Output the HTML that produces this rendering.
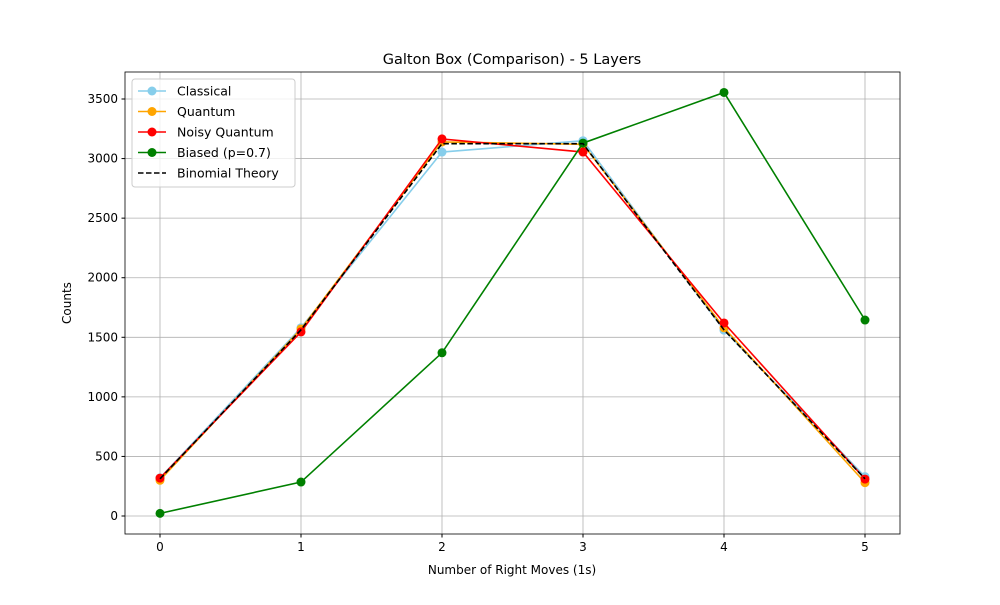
<!DOCTYPE html>
<html><head><meta charset="utf-8"><style>
body{margin:0;background:#fff;font-family:"Liberation Sans","DejaVu Sans",sans-serif;}
svg text{font-family:"DejaVu Sans","Liberation Sans",sans-serif;}
</style></head><body>
<svg id="chart" width="1000" height="600" xmlns="http://www.w3.org/2000/svg"></svg>
<script>
const categories=[0,1,2,3,4,5];
const classical=[320,1580,3055,3150,1560,330];
const quantum=[300,1570,3140,3120,1580,280];
const noisy=[318,1545,3165,3055,1620,310];
const biased=[22,285,1370,3130,3555,1645];
const binomial=[312.5,1562.5,3125,3125,1562.5,312.5];
const yTicks=[0,500,1000,1500,2000,2500,3000,3500];
const xTicks=[0,1,2,3,4,5];
const L=125,R=900,T=72,B=534;
const x=v=>160+v*141;
const y=v=>516-v*0.11914;
const svg=document.getElementById('chart');
const NS='http://www.w3.org/2000/svg';
function mk(tag,attrs,parent){const e=document.createElementNS(NS,tag);for(const k in attrs)e.setAttribute(k,attrs[k]);(parent||svg).appendChild(e);return e;}
// grid
xTicks.forEach(t=>{const g=mk('line',{x1:x(t),x2:x(t),y1:T,y2:B,stroke:'#b0b0b0','stroke-width':0.8});


const tk=mk('line',{x1:x(t),x2:x(t),y1:B,y2:B+3.5,stroke:'#000'});
const tx=mk('text',{x:x(t),y:B+17,'text-anchor':'middle','font-size':12});tx.textContent=t;

});
yTicks.forEach(t=>{const g=mk('line',{x1:L,x2:R,y1:y(t),y2:y(t),stroke:'#b0b0b0','stroke-width':0.8});


mk('line',{x1:L-3.5,x2:L,y1:y(t),y2:y(t),stroke:'#000'});
const tx=mk('text',{x:L-7,y:y(t)+4,'text-anchor':'end','font-size':12});tx.textContent=t;

});
function series(vals,color,name,dash,markers){
 const pts=vals.map((v,i)=>x(categories[i])+','+y(v)).join(' ');
 const p=mk('polyline',{points:pts,fill:'none',stroke:color,'stroke-width':1.6});
 if(dash)p.setAttribute('stroke-dasharray','5.5,2.5');
 
 
 if(markers)vals.forEach((v,i)=>{const c=mk('circle',{cx:x(categories[i]),cy:y(v),r:4.5,fill:color});
 
 });
}
series(classical,'#87ceeb','classical',false,true);
series(quantum,'#ffa500','quantum',false,true);
series(noisy,'#ff0000','noisy-quantum',false,true);
series(biased,'#008000','biased',false,true);
series(binomial,'#000000','binomial-theory',true,false);
mk('rect',{x:L,y:T,width:R-L,height:B-T,fill:'none',stroke:'#000','stroke-width':0.8});
const title=mk('text',{x:512,y:64,'text-anchor':'middle','font-size':14.5});title.textContent='Galton Box (Comparison) - 5 Layers';

const xl=mk('text',{x:512,y:574,'text-anchor':'middle','font-size':12});xl.textContent='Number of Right Moves (1s)';

const yl=mk('text',{x:71,y:303,'text-anchor':'middle','font-size':12,transform:'rotate(-90 71 303)'});yl.textContent='Counts';

// legend
const lg=mk('g',{});

mk('rect',{x:132,y:79,width:163,height:108,rx:3,fill:'#fff','fill-opacity':0.8,stroke:'#ccc'},lg);
const entries=[['Classical','#87ceeb',0],['Quantum','#ffa500',0],['Noisy Quantum','#ff0000',0],['Biased (p=0.7)','#008000',0],['Binomial Theory','#000',1]];
entries.forEach((e,i)=>{const yy=91+i*20.5;
 const l=mk('line',{x1:138,x2:166,y1:yy,y2:yy,stroke:e[1],'stroke-width':1.6},lg);
 if(e[2])l.setAttribute('stroke-dasharray','5.5,2.5');else mk('circle',{cx:152,cy:yy,r:4.5,fill:e[1]},lg);
 const t=mk('text',{x:177,y:yy+4.5,'font-size':12.5},lg);t.textContent=e[0];
 });
</script>
</body></html>
